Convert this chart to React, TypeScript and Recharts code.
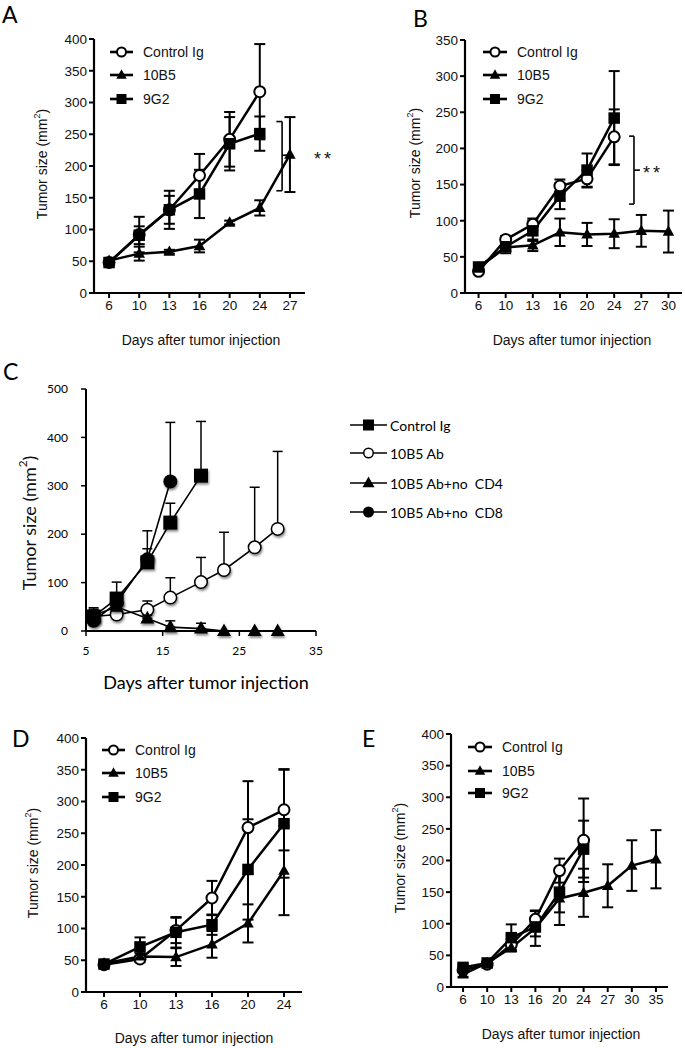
import React from 'react';
import { LineChart, Line, XAxis, YAxis, ErrorBar, Legend, ReferenceLine } from 'recharts';

// ---------------- DATA ----------------
// Panel A
const daysA = [6, 10, 13, 16, 20, 24, 27];
const controlA = [48, 92, 131, 185, 242, 317];
const controlErrA = [2, 28, 30, 34, 43, 75];
const b10A = [51, 62, 65, 74, 111, 134, 218];
const b10ErrA = [3, 11, 3, 10, 3, 12, 59];
const g9A = [48, 91, 131, 156, 235, 251];
const g9ErrA = [2, 14, 22, 38, 42, 27];
const sigA = { top: 270, bottom: 161, mid: 217 };

// Panel B
const daysB = [6, 10, 13, 16, 20, 24, 27, 30];
const controlB = [30, 74, 95, 148, 158, 216];
const controlErrB = [3, 5, 8, 9, 12, 38];
const b10B = [35, 63, 66, 84, 81, 82, 86, 85];
const b10ErrB = [3, 8, 8, 19, 16, 20, 22, 29];
const g9B = [36, 64, 86, 134, 170, 242];
const g9ErrB = [3, 6, 14, 18, 23, 65];
const sigB = { top: 217, bottom: 123, mid: 170 };

// Panel C (numeric day axis)
const controlDaysC = [6, 9, 13, 16, 20];
const controlC = [30, 67, 142, 224, 321];
const controlErrC = [15, 34, 65, 40, 112];
const abDaysC = [6, 9, 13, 16, 20, 23, 27, 30];
const abC = [30, 34, 44, 69, 101, 126, 173, 211];
const abErrC = [10, 5, 18, 41, 51, 78, 124, 160];
const cd4DaysC = [6, 9, 13, 16, 20, 23, 27, 30];
const cd4C = [32, 50, 26, 8, 5, 0, 0, 0];
const cd4ErrC = [16, 8, 6, 13, 11, 0, 0, 0];
const cd8DaysC = [6, 9, 13, 16];
const cd8C = [21, 58, 148, 309];
const cd8ErrC = [10, 15, 22, 122];

// Panel D
const daysD = [6, 10, 13, 16, 20, 24];
const controlD = [43, 52, 97, 148, 259, 287];
const controlErrD = [3, 5, 20, 27, 73, 64];
const b10D = [45, 56, 55, 75, 108, 191];
const b10ErrD = [3, 5, 14, 21, 30, 70];
const g9D = [44, 71, 94, 106, 193, 265];
const g9ErrD = [3, 15, 24, 16, 79, 85];

// Panel E
const daysE = [6, 10, 13, 16, 20, 24, 27, 30, 35];
const controlE = [27, 36, 67, 107, 184, 232];
const controlErrE = [3, 3, 8, 13, 19, 66];
const b10E = [20, 38, 62, 93, 140, 149, 160, 192, 202];
const b10ErrE = [4, 3, 6, 28, 42, 38, 34, 40, 46];
const g9E = [31, 38, 78, 95, 150, 218];
const g9ErrE = [4, 3, 21, 15, 32, 45];

// Labels / ticks
const gpNames = ['Control Ig', '10B5', '9G2'];
const cNames = ['Control Ig', '10B5 Ab', '10B5 Ab+no  CD4', '10B5 Ab+no  CD8'];
const yTicks400 = [0, 50, 100, 150, 200, 250, 300, 350, 400];
const yTicks350 = [0, 50, 100, 150, 200, 250, 300, 350];
const yTicksC = [0, 100, 200, 300, 400, 500];
const xTicksC = [5, 15, 25, 35];
const xTitle = 'Days after tumor injection';

// ---------------- STYLE ----------------
const FONT_GP = "'Liberation Sans', Arial, sans-serif";
const FONT_XL = "Lato, 'Open Sans', sans-serif";

type Shape = 'open' | 'filled' | 'square' | 'triangle';

function Marker({
  cx,
  cy,
  shape,
  size,
  sw = 2,
  filter,
}: {
  cx: any;
  cy: any;
  shape: Shape;
  size: number;
  sw?: number;
  filter?: string;
}) {
  if (typeof cx !== 'number' || typeof cy !== 'number' || isNaN(cx) || isNaN(cy)) return <g />;
  if (shape === 'open')
    return (
      <circle cx={cx} cy={cy} r={size / 2 - sw / 2} fill="#fff" stroke="#000" strokeWidth={sw} filter={filter} />
    );
  if (shape === 'filled') return <circle cx={cx} cy={cy} r={size / 2} fill="#000" filter={filter} />;
  if (shape === 'square')
    return <rect x={cx - size / 2} y={cy - size / 2} width={size} height={size} fill="#000" filter={filter} />;
  const h = size * 0.9;
  return (
    <polygon
      points={`${cx},${cy - h * 0.6} ${cx - size / 2},${cy + h * 0.4} ${cx + size / 2},${cy + h * 0.4}`}
      fill="#000"
      filter={filter}
    />
  );
}

const PAD_L = 80;
const PAD_T = 20;
const PAD_R = 60;
const PAD_B = 70;

interface Series {
  name: string;
  shape: Shape;
  values: number[];
  errs: number[];
}

interface GPConfig {
  box: number[];
  days: number[];
  yTicks: number[];
  series: Series[];
  legend: { x0: number; x1: number; tx: number; rows: number[] };
  yLabel: number[];
  xLabel: number[];
  bracket?: { xv: number; xa: number; xt: number; top: number; bottom: number; mid: number };
}

const markerSizeGP: Record<Shape, number> = { open: 13, filled: 12, square: 11.5, triangle: 11.5 };
const legendSizeGP: Record<Shape, number> = { open: 11, filled: 10, square: 10, triangle: 10.5 };

function YTitle({ x, y, size, family }: { x: number; y: number; size: number; family: string }) {
  return (
    <text
      transform={`translate(${x}, ${y}) rotate(-90)`}
      textAnchor="middle"
      dominantBaseline="central"
      fontSize={size}
      fontFamily={family}
      fill="#111"
    >
      Tumor size (mm
      <tspan baselineShift="super" fontSize="65%">
        2
      </tspan>
      )
    </text>
  );
}

function GPPanel({ cfg }: { cfg: GPConfig }) {
  const [x0, y0, x1, y1] = cfg.box;
  const L = x0 - PAD_L;
  const T = y0 - PAD_T;
  const W = x1 - x0 + PAD_L + PAD_R;
  const H = y1 - y0 + PAD_T + PAD_B;
  const n = cfg.days.length;
  const yMax = cfg.yTicks[cfg.yTicks.length - 1];
  const lg = cfg.legend;
  const rowH = lg.rows.map((r) => r - lg.rows[0] + 12);
  const legendW = 150;
  const legendH = rowH[rowH.length - 1] + 14;
  const br = cfg.bracket;
  const brStyle = { stroke: '#000', strokeWidth: 1.6, ifOverflow: 'visible' as const };
  return (
    <div style={{ position: 'absolute', left: L, top: T, width: W, height: H }}>
      <LineChart width={W} height={H} margin={{ top: PAD_T, right: PAD_R, bottom: 0, left: 0 }}>
        <XAxis
          type="number"
          dataKey="x"
          domain={[-0.5, n - 0.5]}
          ticks={cfg.days.map((_, i) => i)}
          tickFormatter={(i: number) => String(cfg.days[i])}
          interval={0}
          height={PAD_B}
          tickSize={5}
          tickMargin={2}
          axisLine={{ stroke: '#000', strokeWidth: 2.2 }}
          tickLine={{ stroke: '#000', strokeWidth: 2 }}
          tick={{ fontSize: 13.5, fontFamily: FONT_GP, fill: '#111' }}
          label={{
            content: () => (
              <text
                x={cfg.xLabel[0] - L}
                y={cfg.xLabel[1] - T}
                textAnchor="middle"
                dominantBaseline="central"
                fontSize={14}
                fontFamily={FONT_GP}
                fill="#111"
              >
                {xTitle}
              </text>
            ),
          }}
        />
        <YAxis
          type="number"
          domain={[0, yMax]}
          ticks={cfg.yTicks}
          interval={0}
          width={PAD_L}
          tickSize={5}
          tickMargin={2}
          axisLine={{ stroke: '#000', strokeWidth: 2.2 }}
          tickLine={{ stroke: '#000', strokeWidth: 2 }}
          tick={{ fontSize: 13.5, fontFamily: FONT_GP, fill: '#111' }}
          label={{
            content: () => <YTitle x={cfg.yLabel[0] - L} y={cfg.yLabel[1] - T} size={14} family={FONT_GP} />,
          }}
        />
        {cfg.series.map((s) => (
          <Line
            key={s.name}
            name={s.name}
            data={s.values.map((v, i) => ({ x: i, v, e: s.errs[i] }))}
            dataKey="v"
            type="linear"
            stroke="#000"
            strokeWidth={2.5}
            isAnimationActive={false}
            activeDot={false}
            dot={(p: any) => (
              <Marker key={`${s.name}-${p.index}`} cx={p.cx} cy={p.cy} shape={s.shape} size={markerSizeGP[s.shape]} />
            )}
          >
            <ErrorBar dataKey="e" width={5.5} stroke="#000" strokeWidth={2} direction="y" isAnimationActive={false} />
          </Line>
        ))}
        {br && (
          <ReferenceLine segment={[{ x: br.xv, y: br.bottom }, { x: br.xv, y: br.top }]} {...brStyle} />
        )}
        {br && <ReferenceLine segment={[{ x: br.xa, y: br.top }, { x: br.xv, y: br.top }]} {...brStyle} />}
        {br && (
          <ReferenceLine segment={[{ x: br.xa, y: br.bottom }, { x: br.xv, y: br.bottom }]} {...brStyle} />
        )}
        {br && <ReferenceLine segment={[{ x: br.xv, y: br.mid }, { x: br.xt, y: br.mid }]} {...brStyle} />}
        <Legend
          layout="vertical"
          align="center"
          verticalAlign="middle"
          wrapperStyle={{ left: lg.x0 - L, top: lg.rows[0] - 12 - T, width: legendW, height: legendH }}
          content={() => (
            <svg width={legendW} height={legendH} style={{ display: 'block' }}>
              {cfg.series.map((s, i) => {
                const mx = (lg.x1 - lg.x0) / 2;
                return (
                  <g key={s.name}>
                    <line x1={0} x2={lg.x1 - lg.x0} y1={rowH[i]} y2={rowH[i]} stroke="#000" strokeWidth={2.6} />
                    <Marker cx={mx} cy={rowH[i]} shape={s.shape} size={legendSizeGP[s.shape]} />
                    <text
                      x={lg.tx - lg.x0}
                      y={rowH[i]}
                      dominantBaseline="central"
                      fontSize={14}
                      fontFamily={FONT_GP}
                      fill="#111"
                    >
                      {s.name}
                    </text>
                  </g>
                );
              })}
            </svg>
          )}
        />
      </LineChart>
    </div>
  );
}

const cfgA: GPConfig = {
  box: [94, 39, 305, 293],
  days: daysA,
  yTicks: yTicks400,
  series: [
    { name: gpNames[0], shape: 'open', values: controlA, errs: controlErrA },
    { name: gpNames[1], shape: 'triangle', values: b10A, errs: b10ErrA },
    { name: gpNames[2], shape: 'square', values: g9A, errs: g9ErrA },
  ],
  legend: { x0: 110, x1: 133, tx: 143, rows: [52, 75, 99] },
  yLabel: [42, 164],
  xLabel: [201, 340],
  bracket: { xv: 5.74, xa: 5.55, xt: 5.92, ...sigA },
};

const cfgB: GPConfig = {
  box: [465, 40, 682, 293],
  days: daysB,
  yTicks: yTicks350,
  series: [
    { name: gpNames[0], shape: 'open', values: controlB, errs: controlErrB },
    { name: gpNames[1], shape: 'triangle', values: b10B, errs: b10ErrB },
    { name: gpNames[2], shape: 'square', values: g9B, errs: g9ErrB },
  ],
  legend: { x0: 483, x1: 507, tx: 517, rows: [52, 75, 99] },
  yLabel: [415, 163],
  xLabel: [572, 340],
  bracket: { xv: 5.73, xa: 5.55, xt: 5.95, ...sigB },
};

const cfgD: GPConfig = {
  box: [86, 738, 302, 992],
  days: daysD,
  yTicks: yTicks400,
  series: [
    { name: gpNames[0], shape: 'open', values: controlD, errs: controlErrD },
    { name: gpNames[1], shape: 'triangle', values: b10D, errs: b10ErrD },
    { name: gpNames[2], shape: 'square', values: g9D, errs: g9ErrD },
  ],
  legend: { x0: 102, x1: 125, tx: 135, rows: [750, 773, 797] },
  yLabel: [33, 863],
  xLabel: [194, 1038],
};

const cfgE: GPConfig = {
  box: [451, 734, 668, 987],
  days: daysE,
  yTicks: yTicks400,
  series: [
    { name: gpNames[0], shape: 'open', values: controlE, errs: controlErrE },
    { name: gpNames[1], shape: 'triangle', values: b10E, errs: b10ErrE },
    { name: gpNames[2], shape: 'square', values: g9E, errs: g9ErrE },
  ],
  legend: { x0: 468, x1: 492, tx: 502, rows: [747, 771, 793] },
  yLabel: [400, 858],
  xLabel: [561, 1034],
};

// ---------------- PANEL C ----------------
interface CSeries {
  name: string;
  shape: Shape;
  days: number[];
  values: number[];
  errs: number[];
}

const cSeries: CSeries[] = [
  { name: cNames[1], shape: 'open', days: abDaysC, values: abC, errs: abErrC },
  { name: cNames[2], shape: 'triangle', days: cd4DaysC, values: cd4C, errs: cd4ErrC },
  { name: cNames[0], shape: 'square', days: controlDaysC, values: controlC, errs: controlErrC },
  { name: cNames[3], shape: 'filled', days: cd8DaysC, values: cd8C, errs: cd8ErrC },
];
const cLegendOrder = [2, 0, 1, 3];
const markerSizeC: Record<Shape, number> = { open: 14, filled: 14, square: 14, triangle: 14 };
const legendSizeC: Record<Shape, number> = { open: 11, filled: 11, square: 11, triangle: 12 };

function PanelC() {
  const x0 = 86,
    y0 = 389,
    x1 = 316,
    y1 = 631;
  const L = x0 - PAD_L;
  const T = y0 - PAD_T;
  const W = x1 - x0 + PAD_L + PAD_R;
  const H = y1 - y0 + PAD_T + PAD_B;
  const rows = [425, 453, 483, 512];
  const lgX0 = 350,
    lgX1 = 387,
    lgTx = 390;
  const rowH = rows.map((r) => r - rows[0] + 12);
  const legendW = 160;
  const legendH = rowH[rowH.length - 1] + 14;
  return (
    <div style={{ position: 'absolute', left: L, top: T, width: W, height: H }}>
      <LineChart width={W} height={H} margin={{ top: PAD_T, right: PAD_R, bottom: 0, left: 0 }}>
        <XAxis
          type="number"
          dataKey="day"
          domain={[5, 35]}
          ticks={xTicksC}
          interval={0}
          height={PAD_B}
          tickSize={5}
          tickMargin={10}
          axisLine={{ stroke: '#000', strokeWidth: 2 }}
          tickLine={{ stroke: '#000', strokeWidth: 1.5 }}
          tick={{ fontSize: 12, fontFamily: FONT_XL, fill: '#000' }}
          label={{
            content: () => (
              <text
                x={206 - L}
                y={682 - T}
                textAnchor="middle"
                dominantBaseline="central"
                fontSize={18}
                fontFamily={FONT_XL}
                fill="#000"
              >
                {xTitle}
              </text>
            ),
          }}
        />
        <YAxis
          type="number"
          domain={[0, 500]}
          ticks={yTicksC}
          interval={0}
          width={PAD_L}
          tickSize={5}
          tickMargin={13}
          axisLine={{ stroke: '#000', strokeWidth: 2 }}
          tickLine={{ stroke: '#000', strokeWidth: 1.5 }}
          tick={{ fontSize: 12, fontFamily: FONT_XL, fill: '#000' }}
          label={{ content: () => <YTitle x={29 - L} y={523 - T} size={18} family={FONT_XL} /> }}
        />
        {cSeries.map((s) => (
          <Line
            key={s.name}
            name={s.name}
            data={s.values.map((v, i) => ({ day: s.days[i], v, e: [0, s.errs[i]] }))}
            dataKey="v"
            type="linear"
            stroke="#000"
            strokeWidth={1.6}
            isAnimationActive={false}
            activeDot={false}
            dot={(p: any) => (
              <Marker
                key={`${s.name}-${p.index}`}
                cx={p.cx}
                cy={p.cy}
                shape={s.shape}
                size={markerSizeC[s.shape]}
                sw={1.5}
                filter="url(#xlShadow)"
              />
            )}
          >
            <ErrorBar dataKey="e" width={5} stroke="#000" strokeWidth={1.5} direction="y" isAnimationActive={false} />
          </Line>
        ))}
        <Legend
          layout="vertical"
          align="center"
          verticalAlign="middle"
          wrapperStyle={{ left: lgX0 - L, top: rows[0] - 12 - T, width: legendW, height: legendH }}
          content={() => (
            <svg width={legendW} height={legendH} style={{ display: 'block' }}>
              {cLegendOrder.map((si, i) => {
                const s = cSeries[si];
                return (
                  <g key={s.name}>
                    <line x1={0} x2={lgX1 - lgX0} y1={rowH[i]} y2={rowH[i]} stroke="#000" strokeWidth={1.6} />
                    <Marker
                      cx={(lgX1 - lgX0) / 2}
                      cy={rowH[i]}
                      shape={s.shape}
                      size={legendSizeC[s.shape]}
                      sw={1.5}
                    />
                    <text
                      x={lgTx - lgX0}
                      y={rowH[i]}
                      dominantBaseline="central"
                      fontSize={14}
                      fontFamily={FONT_XL}
                      fill="#000"
                      style={{ whiteSpace: 'pre' }}
                    >
                      {s.name}
                    </text>
                  </g>
                );
              })}
            </svg>
          )}
        />
      </LineChart>
    </div>
  );
}

export default function App() {
  return (
    <div
      style={{
        position: 'absolute',
        left: 0,
        top: 0,
        width: 685,
        height: 1048,
        background: '#fff',
        overflow: 'hidden',
      }}
    >
      <svg width={0} height={0} style={{ position: 'absolute' }}>
        <defs>
          <filter id="xlShadow" x="-50%" y="-50%" width="200%" height="200%">
            <feDropShadow dx="1" dy="2" stdDeviation="1.3" floodColor="#000" floodOpacity="0.45" />
          </filter>
        </defs>
      </svg>
      <GPPanel cfg={cfgA} />
      <GPPanel cfg={cfgB} />
      <PanelC />
      <GPPanel cfg={cfgD} />
      <GPPanel cfg={cfgE} />
      <svg
        width={685}
        height={1048}
        style={{ position: 'absolute', left: 0, top: 0, pointerEvents: 'none' }}
      >
        <g fontFamily={FONT_XL} fontSize={23} fill="#000">
          <text x={2} y={23}>A</text>
          <text x={413} y={27}>B</text>
          <text x={3} y={380}>C</text>
          <text x={12} y={747}>D</text>
          <text x={362} y={747}>E</text>
        </g>
        <g fontFamily={FONT_GP} fontSize={18} fill="#111" textAnchor="middle">
          <text x={324} y={165} letterSpacing={3}>**</text>
          <text x={653} y={179} letterSpacing={3}>**</text>
        </g>
      </svg>
    </div>
  );
}
